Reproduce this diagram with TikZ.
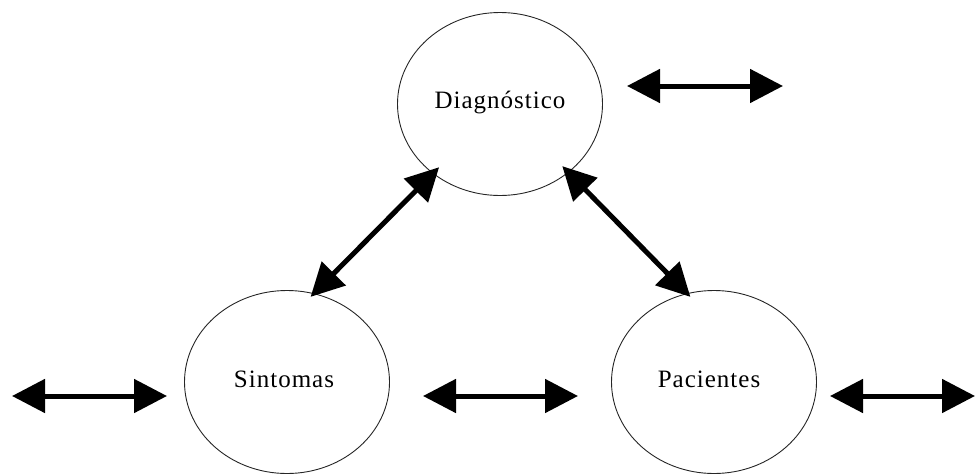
\documentclass[tikz,border=0pt]{standalone}
\usepackage{fontspec}
\setmainfont{Liberation Serif}
\newfontfamily\espaciada[LetterSpace=4]{Liberation Serif}
\usetikzlibrary{shapes.geometric,arrows.meta}

\begin{document}
\begin{tikzpicture}[
        x=1pt,y=-1pt,
        concepto/.style={
            ellipse,
            draw=black!85,
            line width=0.9pt,
            minimum width=205pt,
            minimum height=183pt,
            inner sep=0pt,
            font=\espaciada\fontsize{25}{29}\selectfont
        },
        flecha/.style={
            {Triangle[length=33pt,width=33pt]}-{Triangle[length=33pt,width=33pt]},
            line width=5pt
        }
    ]

    \useasboundingbox (0,0) rectangle (977,474);

    \node[concepto] (diag) at (500,104) {\raisebox{8pt}{Diagnóstico}};
    \node[concepto] (sint) at (287,382) {\hspace{-6pt}\raisebox{5pt}{Sintomas}};
    \node[concepto] (pac)  at (714,382) {\hspace{-10pt}\raisebox{5pt}{Pacientes}};

    % extremos de las flechas sueltas
    \coordinate (a1) at (627,86);  \coordinate (a2) at (783,86);
    \coordinate (b1) at (12,396);  \coordinate (b2) at (167,396);
    \coordinate (c1) at (423,396); \coordinate (c2) at (578,396);
    \coordinate (d1) at (830,396); \coordinate (d2) at (975,396);

    \draw[flecha] (a1) -- (a2);
    \draw[flecha] (b1) -- (b2);
    \draw[flecha] (c1) -- (c2);
    \draw[flecha] (d1) -- (d2);

    \draw[flecha,shorten <=-9pt,shorten >=-5pt] (diag.226) -- (sint.73);
    \draw[flecha,shorten <=-9pt,shorten >=-5pt] (diag.315) -- (pac.107);

\end{tikzpicture}
\end{document}
